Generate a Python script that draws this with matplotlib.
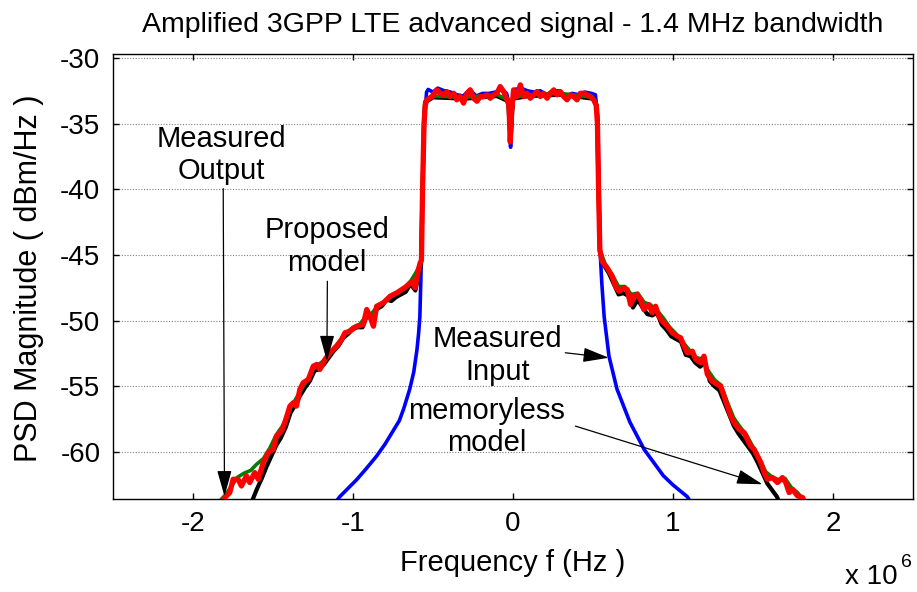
import numpy as np
import matplotlib
matplotlib.use("Agg")
import matplotlib.pyplot as plt

plt.rcParams['font.family'] = ['Liberation Sans', 'DejaVu Sans']
plt.rcParams['axes.unicode_minus'] = False

# ---------------- data (frequency in MHz, PSD in dBm/Hz) ----------------
# Measured input (blue)
f_input = [-1.12, -1.083, -0.977, -0.92, -0.852, -0.80, -0.745, -0.71, -0.683, -0.645,
           -0.62, -0.60, -0.59, -0.582, -0.575, -0.565, -0.552, -0.54,
           -0.53, -0.50, -0.47, -0.43, -0.39, -0.35, -0.31, -0.27, -0.23, -0.19, -0.15,
           -0.11, -0.07, -0.04, -0.025, -0.015, -0.005, 0.01, 0.05, 0.09, 0.13, 0.17,
           0.21, 0.25, 0.29, 0.33, 0.37, 0.41, 0.45, 0.49, 0.515,
           0.53, 0.538, 0.545, 0.555, 0.570, 0.60, 0.65, 0.73, 0.82, 0.94, 1.00, 1.09, 1.12]
psd_input = [-64.0, -63.4, -62.1, -61.3, -60.3, -59.4, -58.3, -57.6, -56.7, -55.2,
             -53.9, -52.2, -51.0, -49.7, -46.5, -40.0, -34.5, -32.6,
             -32.4, -32.6, -32.3, -32.5, -32.6, -32.8, -32.9, -32.4, -32.9, -32.7, -32.7,
             -32.6, -32.4, -32.7, -33.4, -36.8, -34.0, -32.4, -32.3, -32.5, -32.6, -32.5,
             -32.8, -32.5, -32.5, -32.9, -32.7, -32.8, -32.6, -32.7, -32.8,
             -34.5, -40.0, -44.8, -47.1, -49.7, -52.7, -55.2, -57.7, -59.8, -61.8, -62.5, -63.4, -64.0]

# Measured output (green)
f_output = [-1.84, -1.80, -1.76, -1.72, -1.68, -1.64, -1.60, -1.56, -1.52, -1.48, -1.44, -1.40,
            -1.36, -1.32, -1.28, -1.24, -1.20, -1.16, -1.12, -1.08, -1.04, -1.00, -0.96, -0.92,
            -0.88, -0.84, -0.80, -0.76, -0.72, -0.68, -0.64, -0.60, -0.575,
            -0.565, -0.556, -0.55, -0.50, -0.30, -0.10, -0.03, -0.015, 0.0, 0.10, 0.30, 0.50,
            0.525, 0.535, 0.543,
            0.58, 0.62, 0.66, 0.70, 0.74, 0.78, 0.82, 0.86, 0.90, 0.94, 0.98, 1.02, 1.06, 1.10,
            1.14, 1.18, 1.22, 1.26, 1.30, 1.34, 1.38, 1.42, 1.46, 1.50, 1.54, 1.58, 1.62, 1.66,
            1.70, 1.74, 1.78, 1.82, 1.85]
psd_output = [-63.8, -63.3, -62.6, -61.9, -61.6, -61.4, -60.9, -60.5, -59.7, -58.7, -58.0, -56.9,
              -56.0, -55.2, -54.4, -53.5, -53.2, -52.8, -52.1, -51.5, -50.9, -50.5, -50.3, -49.7,
              -49.4, -48.8, -48.5, -48.1, -47.8, -47.5, -47.0, -46.2, -45.6,
              -40.0, -35.0, -33.3, -32.9, -33.0, -32.8, -33.2, -36.2, -33.0, -32.8, -32.7, -33.0,
              -33.6, -40.0, -44.6,
              -45.8, -46.5, -47.4, -47.4, -48.0, -47.9, -48.6, -48.8, -49.2, -49.8, -50.5, -51.0,
              -51.6, -52.2, -52.8, -52.9, -53.8, -54.5, -54.9, -56.2, -57.4, -58.1, -58.7, -59.6,
              -60.5, -61.5, -61.9, -62.1, -62.0, -62.7, -63.1, -63.7, -64.0]

# Memoryless model (black)
f_memoryless = [-1.64, -1.62, -1.60, -1.57, -1.54, -1.51, -1.48, -1.45, -1.42, -1.39, -1.36,
                -1.33, -1.30, -1.27, -1.24, -1.21, -1.18, -1.15, -1.12, -1.09, -1.06, -1.03,
                -1.00, -0.97, -0.94, -0.91, -0.88, -0.85, -0.82, -0.79, -0.76, -0.73, -0.70,
                -0.67, -0.64, -0.61, -0.59, -0.575,
                -0.565, -0.556, -0.55, -0.50, -0.30, -0.10, -0.03, -0.015, 0.0, 0.10, 0.30, 0.50,
                0.525, 0.535, 0.543,
                0.57, 0.60, 0.63, 0.66, 0.69, 0.72, 0.75, 0.78, 0.81, 0.84, 0.87, 0.90, 0.93,
                0.96, 0.99, 1.02, 1.05, 1.08, 1.11, 1.14, 1.17, 1.20, 1.23, 1.26, 1.29, 1.32,
                1.35, 1.38, 1.41, 1.44, 1.47, 1.50, 1.53, 1.56, 1.59, 1.62, 1.65, 1.67]
psd_memoryless = [-64.0, -63.4, -62.8, -62.0, -61.1, -60.3, -59.5, -58.9, -58.1, -57.0, -56.4,
                  -55.7, -55.1, -54.6, -53.8, -53.7, -53.3, -52.8, -52.3, -51.9, -51.3, -51.0,
                  -50.6, -50.5, -50.5, -49.5, -50.0, -49.1, -48.9, -48.4, -48.5, -48.2, -48.0,
                  -47.8, -47.2, -47.7, -46.5, -45.8,
                  -40.0, -35.0, -33.4, -33.0, -33.1, -32.9, -33.3, -36.3, -33.1, -32.9, -32.8, -33.1,
                  -33.7, -40.0, -44.7,
                  -45.8, -46.4, -47.2, -48.0, -47.9, -48.1, -49.0, -48.4, -49.0, -49.5, -49.6,
                  -49.4, -50.3, -50.7, -51.2, -51.4, -51.6, -52.6, -52.7, -53.2, -53.5, -53.2,
                  -54.6, -55.0, -55.3, -56.2, -57.1, -58.0, -58.6, -59.1, -59.6, -60.1, -60.8,
                  -61.6, -62.4, -62.9, -63.4, -64.0]

# Proposed model (red)
f_proposed = [-1.83, -1.801, -1.770, -1.749, -1.718, -1.697, -1.666, -1.645, -1.614, -1.592,
              -1.561, -1.530, -1.498, -1.478, -1.446, -1.426, -1.394, -1.373, -1.353, -1.332,
              -1.311, -1.279, -1.248, -1.227, -1.207, -1.175, -1.144, -1.102, -1.071, -1.050,
              -1.019, -0.977, -0.935, -0.914, -0.894, -0.872, -0.852, -0.810, -0.768, -0.726,
              -0.695, -0.664, -0.632, -0.612, -0.591, -0.580,
              -0.572, -0.565, -0.556, -0.548,
              -0.539, -0.507, -0.476, -0.455, -0.434, -0.413, -0.393, -0.371, -0.351, -0.330,
              -0.309, -0.288, -0.267, -0.246, -0.225, -0.205, -0.183, -0.163, -0.142, -0.121,
              -0.100, -0.080, -0.058, -0.038, -0.025, -0.017, -0.008,
              0.004, 0.025, 0.046, 0.067, 0.088, 0.108, 0.130, 0.150, 0.171, 0.192, 0.213,
              0.234, 0.255, 0.276, 0.296, 0.317, 0.338, 0.359, 0.380, 0.400, 0.421, 0.443,
              0.463, 0.484, 0.505, 0.520,
              0.528, 0.535, 0.543,
              0.557, 0.589, 0.620, 0.641, 0.662, 0.693, 0.714, 0.735, 0.756, 0.776, 0.797,
              0.818, 0.850, 0.870, 0.891, 0.912, 0.933, 0.964, 0.996, 1.027, 1.048, 1.069,
              1.090, 1.121, 1.142, 1.173, 1.194, 1.215, 1.246, 1.277, 1.298, 1.319, 1.340,
              1.361, 1.382, 1.413, 1.445, 1.465, 1.486, 1.507, 1.528, 1.549, 1.570, 1.590,
              1.622, 1.653, 1.684, 1.705, 1.726, 1.747, 1.778, 1.810, 1.83]
psd_proposed = [-64.0, -63.46, -63.08, -62.07, -62.07, -62.58, -61.81, -62.32, -61.56, -62.07,
                -60.80, -60.04, -59.79, -58.78, -58.40, -57.76, -56.50, -56.24, -56.50, -55.23,
                -54.72, -54.47, -53.46, -53.33, -53.71, -52.95, -52.44, -51.94, -51.43, -50.92,
                -50.80, -50.42, -50.29, -49.15, -49.66, -50.42, -48.90, -48.64, -48.14, -47.88,
                -47.63, -47.38, -47.00, -47.50, -46.11, -45.60,
                -45.4, -40.0, -35.0, -33.6,
                -33.19, -32.94, -32.43, -32.69, -32.81, -32.56, -32.94, -32.69, -33.19, -32.94,
                -33.44, -32.69, -32.43, -33.07, -33.30, -32.94, -32.94, -32.81, -33.07, -32.81,
                -32.69, -32.18, -32.56, -33.19, -33.6, -36.4, -34.0,
                -32.43, -32.94, -32.05, -32.94, -32.69, -33.07, -32.81, -32.56, -32.94, -32.69,
                -33.07, -32.69, -32.43, -32.81, -32.56, -32.94, -33.19, -32.81, -32.94, -33.19,
                -32.69, -32.69, -32.81, -32.94, -33.19, -33.6,
                -35.0, -40.0, -44.59,
                -45.48, -45.98, -46.62, -47.38, -47.76, -47.50, -47.63, -48.77, -48.14, -48.01,
                -48.39, -49.15, -48.77, -49.40, -48.90, -49.66, -50.04, -50.42, -50.92, -51.18,
                -51.30, -51.94, -52.44, -52.32, -52.95, -53.20, -52.70, -54.09, -54.60, -54.85,
                -54.98, -55.74, -56.50, -57.26, -57.76, -58.27, -58.52, -59.03, -59.54, -59.79,
                -60.30, -60.80, -61.56, -62.07, -61.94, -62.32, -61.94, -62.32, -63.08, -62.83,
                -63.33, -63.46, -64.0]

x_ticks = [-2, -1, 0, 1, 2]
x_ticklabels = ['-2', '-1', '0', '1', '2']
y_ticks = [-60, -55, -50, -45, -40, -35, -30]

title = "Amplified 3GPP LTE advanced signal - 1.4 MHz bandwidth"
xlabel = "Frequency f (Hz )"
ylabel = "PSD Magnitude ( dBm/Hz )"

# ---------------- figure ----------------
fig = plt.figure(figsize=(9.17, 5.92), dpi=100)
ax = fig.add_axes([0.1232, 0.1571, 0.8724, 0.7517])

M = 1e6
ax.plot(np.array(f_input) * M, psd_input, color='#0000ff', lw=2.6, zorder=2)
ax.plot(np.array(f_memoryless) * M, psd_memoryless, color='black', lw=3.0, zorder=3)
ax.plot(np.array(f_output) * M, psd_output, color='#007f00', lw=2.6, zorder=4)
ax.plot(np.array(f_proposed) * M, psd_proposed, color='#ff0000', lw=3.8, zorder=5)

ax.set_xlim(-2.5 * M, 2.5 * M)
ax.set_ylim(-63.57, -29.7)
ax.set_xticks([t * M for t in x_ticks])
ax.set_xticklabels(x_ticklabels)
ax.set_yticks(y_ticks)
ax.yaxis.grid(True, linestyle=(0, (1, 1.5)), color='0.5', lw=0.8)
ax.xaxis.grid(False)
ax.tick_params(axis='both', which='both', direction='in', length=4, width=1,
               top=True, right=True, labelsize=20, pad=9)
for s in ax.spines.values():
    s.set_linewidth(1.0)

ax.set_title(title, fontsize=20.5, pad=16)
ax.set_xlabel(xlabel, fontsize=21)
ax.set_ylabel(ylabel, fontsize=22)
ax.xaxis.set_label_coords(0.5, -0.113)
ax.yaxis.set_label_coords(-0.086, 0.495)

fig.text(0.979, 0.004, "x 10", fontsize=20, ha='right', va='bottom')
fig.text(0.983, 0.036, "6", fontsize=14, ha='left', va='bottom')

# annotations
tfs = 21
ax.text(-1.823 * M, -37.37, "Measured\nOutput", fontsize=tfs, ha='center', va='center')
ax.text(-1.165 * M, -44.36, "Proposed\nmodel", fontsize=tfs, ha='center', va='center')
ax.text(-0.094 * M, -52.64, "Measured\nInput", fontsize=tfs, ha='center', va='center')
ax.text(-0.163 * M, -58.1, "memoryless\nmodel", fontsize=tfs, ha='center', va='center')

arrows = [((-1.811, -39.95), (-1.803, -63.36)),
          ((-1.160, -47.0), (-1.163, -53.07)),
          ((0.327, -52.44), (0.599, -52.82)),
          ((0.39, -58.02), (1.559, -62.45))]
for (x0, y0), (x1, y1) in arrows:
    ax.annotate('', xy=(x1 * M, y1), xytext=(x0 * M, y0),
                arrowprops=dict(arrowstyle='-|>,head_length=1.6,head_width=0.45',
                                color='black', lw=0.9, shrinkA=0, shrinkB=0),
                zorder=6)

fig.savefig("out.png", dpi=100)
